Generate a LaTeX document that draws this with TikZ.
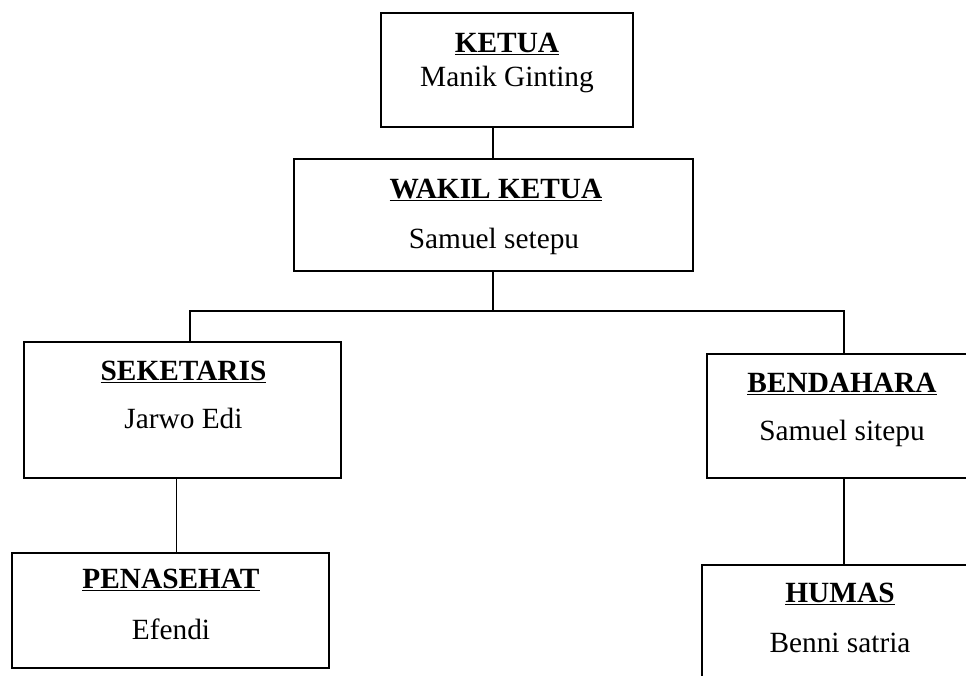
\documentclass[tikz,border=0pt]{standalone}
\usepackage{fontspec}
\setmainfont{Liberation Serif}
\usepackage{tikz}
\usetikzlibrary{calc,
                positioning}

\begin{document}
\begin{tikzpicture}[
			x=0.75pt, y=-0.75pt,
			line width=1.2pt,
			kotak/.style = {draw, rectangle, inner sep=0pt},
			judul/.style = {anchor=base, inner sep=0pt, font=\fontsize{22}{26}\selectfont\bfseries},
			nama/.style = {anchor=base, inner sep=0pt, font=\fontsize{22}{26}\selectfont},
			]
			\useasboundingbox (0,0) rectangle (966,675);
			\clip (0,0) rectangle (966,675);
			% boxes
			\node[kotak, minimum width=189pt, minimum height=85.5pt] (ketua) at (507,70) {};
			\node[kotak, minimum width=299.25pt, minimum height=84pt] (wakil) at (493.5,215) {};
			\node[kotak, minimum width=237.75pt, minimum height=102pt] (seketaris) at (182.5,410) {};
			\node[kotak, minimum width=237.75pt, minimum height=86.25pt] (penasehat) at (170.5,610.5) {};
			\node[kotak, minimum width=202.5pt, minimum height=93pt] (bendahara) at (842,416) {};
			\node[kotak, minimum width=207pt, minimum height=116.25pt] (humas) at (840,642.5) {};
			% texts
			\node[judul] (tKetua) at (507,52) {\underline{KETUA}};
			\node[nama] (nKetua) at (507,86) {Manik Ginting};
			\node[judul] (tWakil) at (496,198) {\underline{WAKIL KETUA}};
			\node[nama] (nWakil) at (494,248) {Samuel setepu};
			\node[judul] (tSeketaris) at (183.5,380) {\underline{SEKETARIS}};
			\node[nama] (nSeketaris) at (183.5,428) {Jarwo Edi};
			\node[judul] (tPenasehat) at (171,588) {\underline{PENASEHAT}};
			\node[nama] (nPenasehat) at (171,639) {Efendi};
			\node[judul] (tBendahara) at (842,392) {\underline{BENDAHARA}};
			\node[nama] (nBendahara) at (842,440) {Samuel sitepu};
			\node[judul] (tHumas) at (840,602) {\underline{HUMAS}};
			\node[nama] (nHumas) at (840,652) {Benni satria};
			% lines
			\coordinate (bus) at (493,311);
			\coordinate (kiri) at (190,311);
			\coordinate (kanan) at (844,311);
			\draw (ketua.south -| bus) -- (wakil.north -| bus);
			\draw (wakil.south -| bus) -- (bus);
			\draw (kiri |- seketaris.north) -- (kiri) -- (kanan) -- (kanan |- bendahara.north);
			\draw ([xshift=-4.5pt]seketaris.south) -- ([xshift=-4.5pt]seketaris.south |- penasehat.north);
			\draw (kanan |- bendahara.south) -- (kanan |- humas.north);
		\end{tikzpicture}
\end{document}
